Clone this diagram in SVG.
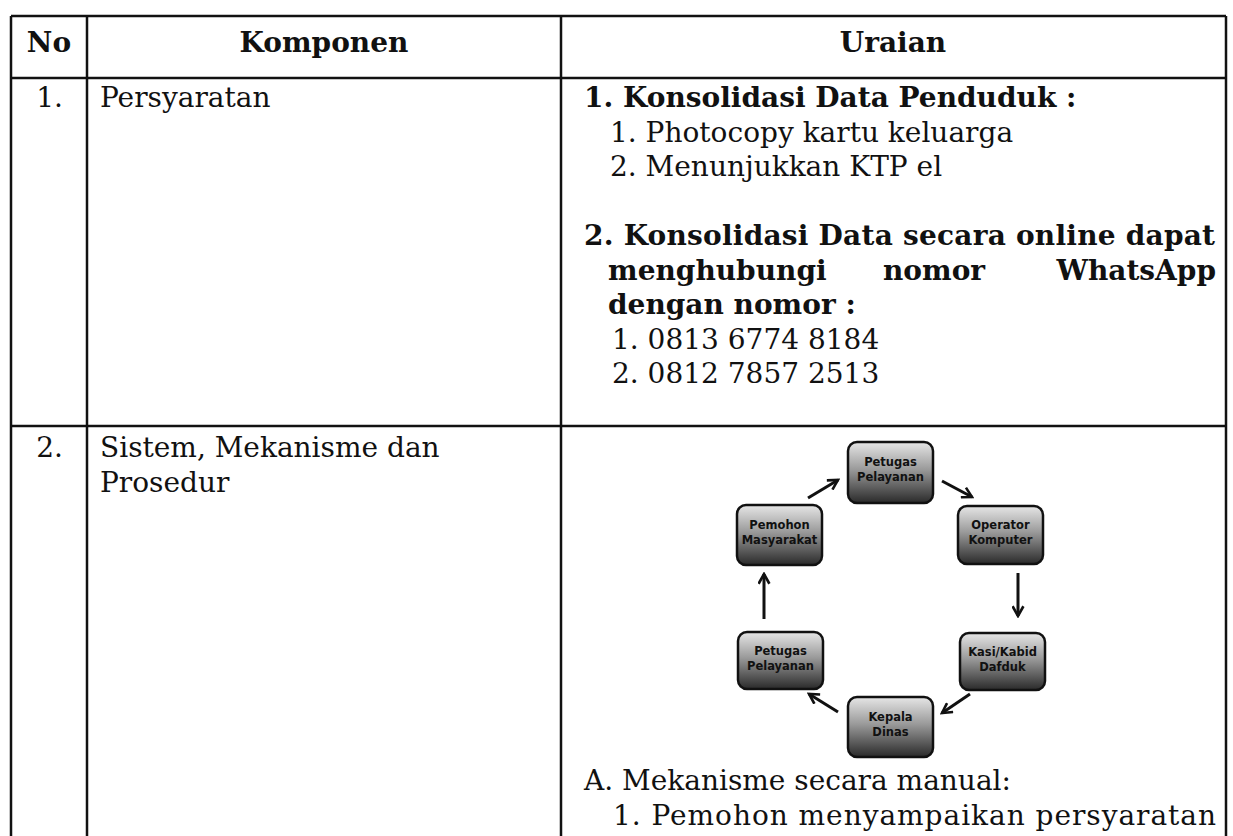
<svg xmlns="http://www.w3.org/2000/svg" width="1233" height="836" viewBox="0 0 1233 836">
<defs>
<style>
.ln{stroke:#111;stroke-width:2.5;fill:none}
.t{font-family:"DejaVu Serif","Liberation Serif",serif;font-size:28px;fill:#111}
.b{font-family:"DejaVu Serif","Liberation Serif",serif;font-size:28px;font-weight:bold;fill:#111}
.h{font-family:"DejaVu Serif","Liberation Serif",serif;font-size:28px;font-weight:bold;fill:#111;text-anchor:middle}
.node{fill:url(#g);stroke:#111;stroke-width:2.5}
.nl{font-family:"DejaVu Sans","Liberation Sans",sans-serif;font-size:11.5px;font-weight:bold;fill:#111;text-anchor:middle}
.ar{stroke:#111;stroke-width:3;fill:none;marker-end:url(#ah)}
</style>
<linearGradient id="g" x1="0" y1="0" x2="0" y2="1">
<stop offset="0" stop-color="#e6e6e6"/>
<stop offset="0.45" stop-color="#9a9a9a"/>
<stop offset="1" stop-color="#2a2a2a"/>
</linearGradient>
<marker id="ah" viewBox="0 0 12 12" refX="10" refY="6" markerWidth="13" markerHeight="13" markerUnits="userSpaceOnUse" orient="auto">
<path d="M1,1 L10,6 L1,11" fill="none" stroke="#111" stroke-width="2.4"/>
</marker>
</defs>
<g id="table">
<line class="ln" x1="11" y1="16" x2="1226" y2="16"/>
<line class="ln" x1="11" y1="78" x2="1226" y2="78"/>
<line class="ln" x1="11" y1="426" x2="1226" y2="426"/>
<line class="ln" x1="11" y1="16" x2="11" y2="836"/>
<line class="ln" x1="87" y1="16" x2="87" y2="836"/>
<line class="ln" x1="561" y1="16" x2="561" y2="836"/>
<line class="ln" x1="1226" y1="16" x2="1226" y2="836"/>
</g>
<g id="header">
<text class="h" x="49" y="52">No</text>
<text class="h" x="324" y="52">Komponen</text>
<text class="h" x="893" y="52">Uraian</text>
</g>
<g id="row1">
<text class="t" x="63" y="107" text-anchor="end">1.</text>
<text class="t" x="100" y="107">Persyaratan</text>
<text class="b" x="584" y="107">1. Konsolidasi Data Penduduk :</text>
<text class="t" x="610" y="141.5">1. Photocopy kartu keluarga</text>
<text class="t" x="610" y="176">2. Menunjukkan KTP el</text>
<text class="b" x="584" y="245" textLength="631" lengthAdjust="spacing">2. Konsolidasi Data secara online dapat</text>
<text class="b" x="608" y="279.5">menghubungi</text>
<text class="b" x="883" y="279.5">nomor</text>
<text class="b" x="1216" y="279.5" text-anchor="end">WhatsApp</text>
<text class="b" x="608" y="314">dengan nomor :</text>
<text class="t" x="612" y="348.5">1. 0813 6774 8184</text>
<text class="t" x="612" y="383">2. 0812 7857 2513</text>
</g>
<g id="row2">
<text class="t" x="63" y="457" text-anchor="end">2.</text>
<text class="t" x="100" y="457">Sistem, Mekanisme dan</text>
<text class="t" x="100" y="491.5">Prosedur</text>
<text class="t" x="584" y="790">A. Mekanisme secara manual:</text>
<text class="t" x="613" y="824.5" textLength="603" lengthAdjust="spacing">1. Pemohon menyampaikan persyaratan</text>
</g>
<g id="n-top"><rect class="node" x="848" y="442" width="85" height="61" rx="9"/><text class="nl" x="890.5" y="466">Petugas</text><text class="nl" x="890.5" y="481">Pelayanan</text></g>
<g id="n-ur"><rect class="node" x="958" y="506" width="85" height="58" rx="9"/><text class="nl" x="1000.5" y="529">Operator</text><text class="nl" x="1000.5" y="544">Komputer</text></g>
<g id="n-br"><rect class="node" x="960" y="633" width="85" height="57" rx="9"/><text class="nl" x="1002.5" y="656">Kasi/Kabid</text><text class="nl" x="1002.5" y="671">Dafduk</text></g>
<g id="n-bot"><rect class="node" x="848" y="697" width="85" height="60" rx="9"/><text class="nl" x="890.5" y="721">Kepala</text><text class="nl" x="890.5" y="736">Dinas</text></g>
<g id="n-bl"><rect class="node" x="738" y="632" width="85" height="57" rx="9"/><text class="nl" x="780.5" y="655">Petugas</text><text class="nl" x="780.5" y="670">Pelayanan</text></g>
<g id="n-ul"><rect class="node" x="737" y="505" width="85" height="60" rx="9"/><text class="nl" x="779.5" y="529">Pemohon</text><text class="nl" x="779.5" y="544">Masyarakat</text></g>
<g id="connectors">
<path class="ar" d="M808,498 L838,480"/>
<path class="ar" d="M942,481 L972,497"/>
<path class="ar" d="M1018,573 L1018,616"/>
<path class="ar" d="M970,694 L942,713"/>
<path class="ar" d="M838,712 L809,694"/>
<path class="ar" d="M764,619 L764,574"/>
</g>
</svg>
